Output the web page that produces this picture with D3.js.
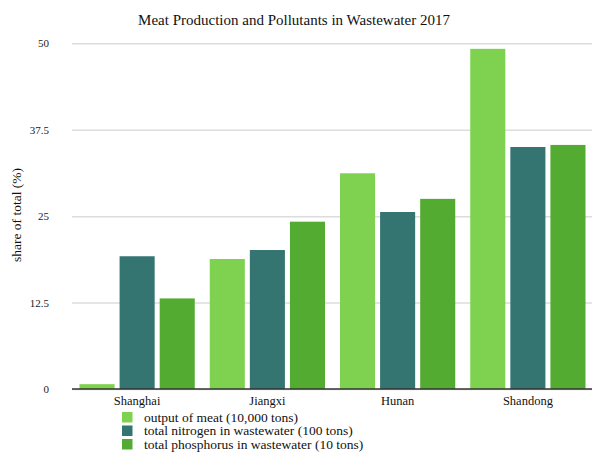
<!DOCTYPE html>
<html>
<head>
<meta charset="utf-8">
<script src="https://cdn.jsdelivr.net/npm/d3@7"></script>
<style>
  html, body { margin: 0; padding: 0; background: #fff; }
  svg { display: block; font-family: "Liberation Serif", "Times New Roman", serif; }
</style>
</head>
<body>
<svg id="chart" width="592" height="453"></svg>
<script>
// Provinces on the x axis
const provinces = ["Shanghai", "Jiangxi", "Hunan", "Shandong"];

// Series names (legend labels)
const seriesNames = [
  "output of meat (10,000 tons)",
  "total nitrogen in wastewater (100 tons)",
  "total phosphorus in wastewater (10 tons)"
];

// Share of total (%) per province, one array per series
const meatOutput = [0.7, 18.8, 31.2, 49.2];
const nitrogen = [19.2, 20.1, 25.6, 35.0];
const phosphorus = [13.1, 24.2, 27.5, 35.3];

// Y axis tick values and their labels
const yTicks = [0, 12.5, 25, 37.5, 50];
const yTickLabels = ["0", "12.5", "25", "37.5", "50"];

const colors = ["#7ed24f", "#347571", "#53ab32"];
const seriesValues = [meatOutput, nitrogen, phosphorus];

const svg = d3.select("#chart");
const plot = { left: 72, right: 593, top: 43.3, bottom: 389 };

const x0 = d3.scaleBand().domain(provinces).range([plot.left, plot.right]).padding(0);
const x1 = d3.scaleBand().domain(d3.range(seriesNames.length))
  .range([7.5, x0.bandwidth() - 7.5]).paddingInner(0.125).paddingOuter(0);
const y = d3.scaleLinear().domain([0, 50]).range([plot.bottom, plot.top]);

// Title
svg.append("text")
  .attr("x", 294).attr("y", 25)
  .attr("text-anchor", "middle")
  .attr("font-size", 15)
  .attr("fill", "#111")
  .text("Meat Production and Pollutants in Wastewater 2017");

// Horizontal gridlines with tick labels
const yAxis = d3.axisLeft(y)
  .tickValues(yTicks)
  .tickFormat((d, i) => yTickLabels[i])
  .tickSize(-(plot.right - plot.left))
  .tickPadding(23);

const gy = svg.append("g")
  .attr("transform", `translate(${plot.left},0)`)
  .call(yAxis);
gy.select(".domain").remove();
gy.selectAll(".tick line").attr("stroke", "#dcdcdc").attr("stroke-width", 1.5);
gy.selectAll(".tick text")
  .attr("font-size", 11)
  .attr("font-family", "Liberation Serif, serif")
  .attr("fill", "#222");

// Y axis title
svg.append("text")
  .attr("transform", `translate(21,215) rotate(-90)`)
  .attr("text-anchor", "middle")
  .attr("font-size", 13.5)
  .attr("fill", "#111")
  .text("share of total (%)");

// Grouped bars
const groups = svg.append("g").selectAll("g")
  .data(provinces)
  .join("g")
  .attr("transform", d => `translate(${x0(d)},0)`);

groups.selectAll("rect")
  .data((d, pi) => seriesValues.map((vals, si) => ({ si, v: vals[pi] })))
  .join("rect")
  .attr("x", d => x1(d.si))
  .attr("width", x1.bandwidth())
  .attr("y", d => y(d.v))
  .attr("height", d => y(0) - y(d.v))
  .attr("fill", d => colors[d.si]);

// Baseline
svg.append("line")
  .attr("x1", plot.left).attr("x2", plot.right)
  .attr("y1", y(0)).attr("y2", y(0))
  .attr("stroke", "#333").attr("stroke-width", 1.5);

// Category labels
const xAxis = d3.axisBottom(x0).tickSize(0).tickPadding(7);
const gx = svg.append("g")
  .attr("transform", `translate(0,${plot.bottom})`)
  .call(xAxis);
gx.select(".domain").remove();
gx.selectAll(".tick text")
  .attr("font-size", 12.5)
  .attr("font-family", "Liberation Serif, serif")
  .attr("fill", "#111");

// Legend
const legend = svg.append("g").attr("transform", "translate(122,412)");
const rows = legend.selectAll("g")
  .data(seriesNames)
  .join("g")
  .attr("transform", (d, i) => `translate(0,${i * 13.5})`);
rows.append("rect")
  .attr("width", 10.5).attr("height", 10.5)
  .attr("fill", (d, i) => colors[i]);
rows.append("text")
  .attr("x", 22).attr("y", 9.5)
  .attr("font-size", 13.5)
  .attr("fill", "#111")
  .text(d => d);
</script>
</body>
</html>
